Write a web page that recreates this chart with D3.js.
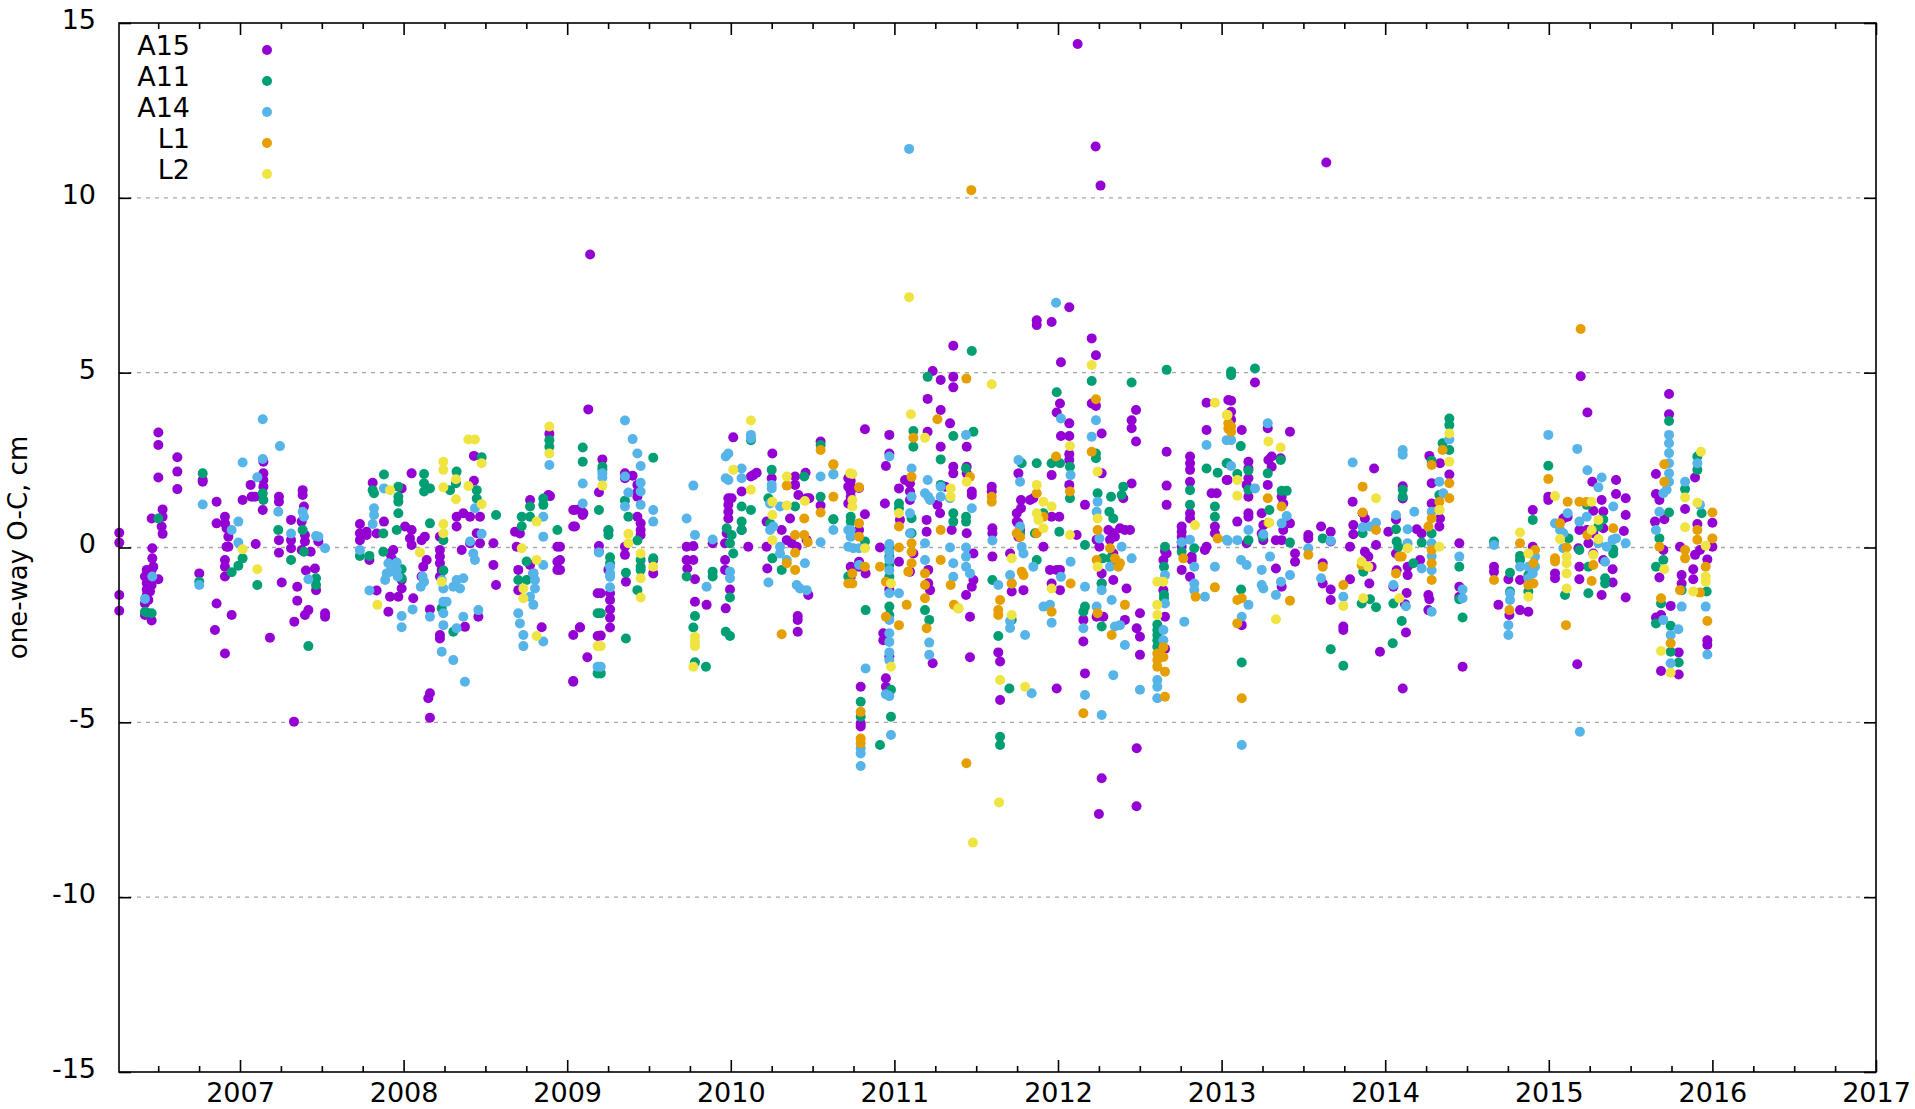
<!DOCTYPE html>
<html><head><meta charset="utf-8">
<script src="https://cdn.jsdelivr.net/npm/d3@7"></script>
<style>html,body{margin:0;padding:0;background:#fff;} svg{display:block;font-family:"DejaVu Sans",sans-serif;}</style>
</head><body><svg id="chart" width="1915" height="1109"></svg>
<script>
const seriesNames = ["A15","A11","A14","L1","L2"];
const seriesColors = ["#9400d3","#009e73","#56b4e9","#e69f00","#f0e442"];
const xTickValues = [2007,2008,2009,2010,2011,2012,2013,2014,2015,2016,2017];
const yTickValues = [-15,-10,-5,0,5,10,15];
const gridValues = [-10,-5,0,5,10];
const xDomain = [2006.2604, 2017];
const yDomain = [-15, 15];
const yLabel = "one-way O-C, cm";

// series: [decimal year, O-C in cm]
const A15 = [
[2006.262,0.42],[2006.262,0.14],[2006.262,-1.36],[2006.262,-1.81],
[2006.501,3.29],[2006.501,2.93],[2006.501,2.0],[2006.617,2.58],[2006.617,2.17],[2006.617,1.67],
[2006.527,1.09],[2006.527,0.88],[2006.460,0.83],[2006.521,0.60],[2006.527,0.39],[2006.464,-0.02],[2006.464,-0.31],
[2006.430,-0.64],[2006.440,-0.79],[2006.450,-0.93],[2006.460,-0.64],[2006.419,-0.83],[2006.430,-1.02],[2006.440,-1.17],[2006.450,-1.26],[2006.470,-0.55],[2006.460,-1.07],[2006.501,-0.91],[2006.430,-1.36],[2006.450,-1.12],[2006.440,-1.0],[2006.419,-1.6],[2006.460,-2.09],[2006.419,-1.93],[2006.440,-1.5],[2006.450,-0.7],[2006.430,-1.2],
[2006.751,-0.74],[2006.772,1.93],[2006.772,1.88],[2006.857,1.31],[2006.857,0.69],[2006.908,0.88],[2006.908,0.69],[2006.918,0.55],[2006.929,0.31],[2006.929,0.02],[2006.918,0.02],[2006.908,-0.36],[2006.908,-0.55],[2006.908,-0.83],
[2006.857,-1.6],[2006.847,-2.36],[2006.908,-3.03],[2006.949,-1.93],
[2007.016,1.36],[2007.065,1.79],[2007.071,1.45],[2007.092,1.45],[2007.143,2.45],[2007.143,2.12],[2007.143,1.93],[2007.143,1.74],[2007.139,1.07],[2007.096,0.10],[2007.183,-2.58],
[2007.238,1.45],[2007.238,1.31],[2007.238,0.21],[2007.238,-0.15],[2007.255,-1.0],
[2007.312,0.79],[2007.312,0.21],[2007.312,-0.02],[2007.350,-1.12],[2007.350,-1.52],[2007.332,-2.12],
[2007.383,1.64],[2007.383,1.5],[2007.391,1.17],[2007.377,0.74],[2007.397,0.36],[2007.397,0.17],[2007.377,-0.07],[2007.432,-0.12],[2007.403,-0.66],[2007.458,-0.60],[2007.465,-1.22],[2007.418,-1.79],[2007.397,-1.93],
[2007.479,0.17],[2007.520,-1.88],[2007.520,-1.98],[2007.33,-4.98],
[2007.733,0.67],[2007.733,0.41],[2007.733,0.21],[2007.774,0.45],[2007.774,0.36],[2007.811,1.85],[2007.791,-0.36],[2007.835,0.4],[2007.835,-1.23],
[2007.880,0.74],[2007.917,-0.17],[2007.937,-0.07],[2007.927,-0.31],[2007.917,-1.41],[2007.907,-1.84],
[2007.988,1.69],[2007.968,-1.41],[2007.988,-1.17],[2007.988,-0.93],[2008.049,2.12],[2008.009,0.60],[2008.049,0.50],[2008.039,0.26],[2008.049,0.07],[2008.059,-1.45],
[2008.110,0.21],[2008.130,0.31],[2008.141,-0.36],[2008.120,-0.55],[2008.110,-0.83],[2008.161,-1.77],[2008.161,-4.17],[2008.151,-4.31],[2008.161,-4.87],
[2008.222,0.31],[2008.222,-0.07],[2008.222,-0.26],[2008.222,-0.45],[2008.233,-0.64],[2008.222,-0.83],[2008.222,-2.50],[2008.222,-2.60],[2008.324,0.88],[2008.324,0.60],
[2008.430,2.62],[2008.430,1.91],[2008.365,0.98],[2008.406,0.88],[2008.467,0.88],[2008.447,0.41],[2008.467,0.12],[2008.406,0.12],[2008.355,-0.07],
[2008.549,0.12],[2008.549,-0.50],[2008.565,-1.07],[2008.375,-2.27],[2008.457,-1.98],
[2008.681,0.45],[2008.711,0.40],[2008.691,0.02],[2008.773,1.36],[2008.885,1.50],[2008.891,3.25],[2008.895,1.47],[2008.940,0.02],[2008.940,-0.41],[2008.940,-0.64],[2008.701,-0.64],[2008.701,-1.22],[2008.844,-2.28],[2008.773,-0.5],[2008.793,-0.74],
[2009.037,1.07],[2009.037,0.60],[2009.037,-2.50],[2009.037,-3.84],[2009.078,-2.28],[2009.129,3.95],[2009.078,1.10],[2009.099,0.98],[2009.123,-3.14],[2009.186,-2.53],[2009.186,-1.31],[2009.14,8.38],
[2009.048,1.07],[2009.094,1.00],[2009.094,0.93],[2009.048,0.60],[2008.956,0.02],[2008.956,-0.36],[2008.956,-0.64],[2009.078,-2.29],[2009.037,-3.82],
[2009.215,2.52],[2009.194,1.58],[2009.194,0.04],[2009.194,-0.12],[2009.252,-0.64],[2009.205,-1.31],[2009.262,-1.31],[2009.262,-1.50],[2009.262,-1.77],[2009.262,-2.01],[2009.262,-2.29],[2009.205,-2.52],[2009.252,0.48],
[2009.353,2.12],[2009.400,2.05],[2009.353,1.98],[2009.429,1.79],[2009.429,1.58],[2009.429,1.45],[2009.429,0.88],[2009.449,0.69],[2009.449,0.50],[2009.449,0.36],[2009.353,0.02],[2009.353,-0.21],[2009.359,-0.98],
[2009.526,-0.36],[2009.526,-0.74],[2009.730,0.02],[2009.730,-0.36],[2009.734,-0.60],[2009.771,0.04],[2009.771,-0.36],[2009.781,-0.91],[2009.781,-1.55],[2009.852,-1.64],[2009.889,0.12],
[2010.015,3.15],[2009.985,1.41],[2010.005,1.41],[2009.985,1.22],[2009.985,1.02],[2009.985,0.83],[2009.975,0.41],[2009.965,0.12],[2009.965,-0.36],[2009.965,-0.64],[2009.995,-1.20],[2009.969,-1.74],
[2010.066,1.60],[2010.066,0.50],[2010.123,2.03],[2010.138,2.07],[2010.158,2.14],[2010.107,0.02],
[2010.254,2.69],[2010.250,1.98],[2010.219,0.74],[2010.219,0.02],[2010.223,-0.60],[2010.311,0.50],[2010.342,0.21],[2010.372,0.12],[2010.403,0.02],[2010.393,2.03],[2010.393,1.79],[2010.362,0.83],[2010.413,1.50],[2010.464,1.41],[2010.480,1.41],[2010.464,0.21],[2010.474,-1.36],[2010.409,-1.96],[2010.409,-2.07],[2010.409,-2.41],[2010.457,2.14],
[2010.549,3.03],[2010.549,1.20],[2010.718,1.98],[2010.718,1.74],[2010.718,1.26],
[2010.733,1.90],[2010.733,1.75],[2010.733,1.60],[2010.733,1.45],[2010.733,-0.55],[2010.733,-0.84],[2010.784,1.70],[2010.784,0.50],[2010.784,-0.41],[2010.784,-0.55],[2010.824,-0.74],[2010.820,0.95],[2010.820,3.38],
[2010.794,-3.98],[2010.794,-5.03],[2010.794,-5.12],
[2010.912,0.0],[2010.942,1.26],[2010.948,2.33],[2010.969,3.22],[2010.969,2.69],[2010.932,-2.45],[2010.932,-2.65],[2010.969,-3.12],[2010.948,-3.74],[2010.948,-3.98],[2010.969,-1.2],
[2011.028,1.69],[2011.028,-0.41],[2011.034,0.79],[2011.065,1.93],[2011.095,1.83],[2011.095,1.6],[2011.095,1.36],[2011.116,-0.17],[2011.095,-0.69],
[2011.203,4.25],[2011.234,5.05],[2011.203,3.31],[2011.197,0.79],[2011.197,0.45],[2011.207,-0.64],[2011.207,-1.02],[2011.218,-1.22],[2011.234,-3.31],
[2011.283,4.79],[2011.283,3.93],[2011.283,2.88],[2011.310,1.74],[2011.263,1.22],[2011.279,0.98],[2011.340,3.55],[2011.360,4.88],[2011.360,4.58],[2011.360,5.77],[2011.360,2.31],[2011.360,2.12],[2011.350,0.50],
[2011.442,2.88],[2011.442,2.31],[2011.442,2.12],[2011.473,1.60],[2011.473,1.50],[2011.442,0.41],[2011.483,-0.17],[2011.483,-0.93],[2011.473,-1.12],[2011.438,-1.36],[2011.462,-1.98],[2011.462,-3.14],
[2011.595,1.74],[2011.595,1.60],[2011.599,0.55],[2011.599,0.41],[2011.599,-0.26],[2011.635,-3.0],[2011.646,-3.26],[2011.646,-4.36],
[2011.717,-1.26],[2011.707,-0.17],[2011.758,2.12],[2011.774,1.36],[2011.774,1.12],[2011.748,0.98],[2011.748,0.74],[2011.758,0.69],[2011.768,0.50],[2011.758,0.31],[2011.789,-1.22],[2011.829,1.36],[2011.849,1.41],
[2011.961,0.88],[2011.911,0.02],[2011.951,-0.64],[2011.992,-0.64],[2012.012,-0.64],[2011.961,-1.03],[2012.012,-1.22],[2011.992,-4.03],
[2011.992,3.86],[2012.012,4.12],[2012.018,5.30],[2011.961,6.45],[2011.870,6.50],[2011.870,6.36],[2012.069,6.87],[2012.069,3.55],[2012.018,3.19],[2012.069,3.19],[2012.069,2.67],[2012.069,2.50],[2012.069,1.79],[2011.961,2.07],[2012.008,0.88],[2012.114,0.36],
[2012.165,1.22],[2012.155,-2.07],[2012.155,-2.69],[2012.165,-3.60],[2012.206,5.98],[2012.232,5.50],[2012.206,4.12],[2012.232,4.05],[2012.267,3.26],[2012.267,2.12],[2012.236,0.22],[2012.253,0.02],[2012.267,-0.74],[2012.267,-1.03],[2012.236,-1.98],[2012.277,-1.98],[2012.267,-6.60],[2012.25,-7.62],
[2012.12,14.4],[2012.23,11.47],[2012.26,10.35],
[2012.308,0.50],[2012.318,0.22],[2012.338,0.41],[2012.348,0.31],[2012.399,1.41],[2012.379,0.55],[2012.409,0.50],[2012.440,0.50],[2012.338,-0.17],[2012.338,-0.45],[2012.338,-0.93],[2012.419,-1.17],[2012.409,-2.07],
[2012.450,1.83],[2012.450,3.64],[2012.450,3.41],[2012.477,3.93],[2012.477,3.03],[2012.501,-1.88],[2012.481,-2.31],[2012.501,-2.55],[2012.501,-3.07],[2012.481,-5.74],[2012.48,-7.40],
[2012.654,-0.10],[2012.664,-0.17],[2012.644,-0.36],[2012.644,-1.22],[2012.654,-1.98],[2012.654,-2.9],[2012.664,2.74],[2012.664,1.77],[2012.664,1.22],
[2012.756,0.60],[2012.756,0.45],[2012.756,0.30],[2012.756,0.15],[2012.756,0.02],[2012.756,-0.64],[2012.807,2.60],[2012.807,2.41],[2012.807,2.22],[2012.807,1.88],[2012.807,0.98],[2012.807,0.83],[2012.817,-0.26],[2012.817,-0.36],[2012.807,-0.84],
[2012.908,4.14],[2012.908,3.36],[2012.970,1.55],[2012.939,1.55],[2012.959,0.60],[2012.959,0.41],[2012.908,0.02],[2012.898,-0.07],[2013.031,1.93],[2013.041,4.22],
[2013.058,4.20],[2013.058,3.88],[2013.058,3.65],[2013.037,1.93],[2013.096,0.74],[2013.123,-2.22],[2013.204,4.72],[2013.123,3.36],[2013.164,2.45],[2013.164,2.26],[2013.164,1.98],[2013.153,1.79],[2013.164,1.45],[2013.164,0.98],[2013.164,0.88],[2013.153,0.12],
[2013.282,3.41],[2013.282,1.79],[2013.306,2.60],[2013.286,2.50],[2013.306,2.31],[2013.418,3.31],[2013.361,2.55],[2013.245,0.98],[2013.255,0.64],[2013.245,0.40],[2013.255,0.21],[2013.367,1.45],[2013.377,1.26],[2013.418,0.69],[2013.449,-0.17],[2013.449,-0.41],[2013.377,0.50],[2013.367,0.21],[2013.332,0.21],[2013.332,-0.60],[2013.367,-1.12],
[2013.530,0.36],[2013.530,0.26],[2013.608,0.60],[2013.618,-0.45],[2013.618,-1.03],[2013.667,0.45],[2013.667,0.17],[2013.667,-1.20],[2013.667,-1.50],[2013.64,11.01],
[2013.744,-2.26],[2013.744,-2.36],[2013.785,0.02],[2013.785,-0.91],[2013.801,1.31],[2013.862,0.98],[2013.876,0.83],[2013.805,0.64],[2013.805,0.38],[2013.876,-0.12],[2013.897,-0.26],[2013.917,-0.55],[2013.944,0.07],[2013.903,-1.03],[2013.932,2.26],[2013.968,-2.98],
[2014.019,0.45],[2014.066,0.80],[2014.066,-0.17],[2014.070,-0.65],[2014.050,-1.12],[2014.121,-1.62],[2014.127,-2.43],[2014.107,-4.03],[2014.107,1.75],[2014.107,1.40],[2014.137,-0.55],[2014.137,-0.79],[2014.131,-1.30],[2014.193,0.52],[2014.223,0.40],[2014.213,-0.36],
[2014.270,2.62],[2014.284,1.84],[2014.284,1.26],[2014.264,-1.36],[2014.270,-1.48],[2014.264,-1.79],[2014.335,2.41],[2014.335,0.83],[2014.331,0.60],[2014.392,2.09],
[2014.453,0.12],[2014.453,-1.12],[2014.453,-1.41],[2014.473,-3.41],
[2014.665,-0.55],[2014.665,-0.69],[2014.692,-1.64],[2014.753,-0.91],[2014.759,-1.93],[2014.824,-0.93],[2014.824,-1.79],[2014.875,-1.84],[2014.902,1.07],[2014.902,0.02],
[2014.997,1.45],[2014.997,1.36],[2015.038,-0.74],[2015.038,-0.88],[2015.089,0.83],[2015.115,0.88],
[2015.195,4.90],[2015.236,3.86],[2015.266,1.88],[2015.411,1.93],[2015.411,1.53],[2015.470,1.41],[2015.470,0.93],[2015.272,1.05],[2015.323,1.36],[2015.333,1.03],[2015.187,0.50],[2015.232,0.50],[2015.272,0.41],[2015.333,0.55],[2015.181,-0.02],[2015.242,0.12],[2015.272,-0.17],[2015.333,-0.36],[2015.187,-0.55],[2015.187,-0.91],[2015.323,-1.36],[2015.390,-0.62],[2015.390,-1.00],[2015.459,0.47],[2015.470,-1.43],[2015.174,-3.34],
[2015.655,2.10],[2015.655,1.53],[2015.676,1.36],[2015.649,0.74],[2015.700,-0.07],[2015.676,-0.86],[2015.686,-1.93],[2015.655,-2.0],[2015.686,-3.53],[2015.735,4.39],[2015.735,3.81],[2015.706,0.81],[2015.745,-1.67],[2015.794,-3.00],[2015.794,-3.63],[2015.833,1.10],[2015.802,0.02],[2015.812,-0.79],[2015.812,-1.03],[2015.883,-0.62],[2015.883,-0.91],[2015.894,-0.21],[2015.894,2.00],[2015.908,0.67],[2015.924,-0.07],[2015.969,-0.34],[2015.969,-2.65],[2015.969,-2.79],[2016.000,0.71],[2016.000,0.02]
];

const A11 = [
[2006.501,0.83],[2006.419,-1.84],[2006.460,-1.88],[2006.430,-1.86],[2006.772,2.12],[2006.751,-0.98],
[2006.949,-0.71],[2006.990,-0.52],[2007.016,-0.31],[2007.139,1.55],[2007.143,1.36],[2007.106,-1.07],
[2007.234,0.5],[2007.312,-0.36],[2007.383,0.5],[2007.391,-0.12],[2007.465,-0.88],[2007.465,-1.07],[2007.418,-2.82],
[2007.733,-0.24],[2007.791,-0.24],[2007.811,1.64],[2007.819,1.55],[2007.880,2.09],[2007.876,0.40],[2007.876,-0.12],
[2007.968,1.74],[2007.968,1.45],[2007.968,0.98],[2007.968,1.31],[2007.958,0.50],[2007.988,-0.62],[2007.988,-0.88],
[2008.125,2.10],[2008.125,1.84],[2008.125,1.60],[2008.161,1.69],[2008.161,0.69],
[2008.243,0.21],[2008.243,-0.66],[2008.233,-1.74],[2008.284,1.64],[2008.324,2.17],[2008.320,1.84],
[2008.477,2.58],[2008.447,1.64],[2008.447,1.40],[2008.565,0.93],[2008.304,-2.41],
[2008.722,0.88],[2008.722,0.61],[2008.773,0.88],[2008.773,1.17],[2008.854,1.40],[2008.854,1.22],[2008.891,3.07],[2008.891,2.88],[2008.940,0.50],[2008.701,-0.93],[2008.752,-0.93],[2009.095,2.86],[2009.095,2.45],[2009.186,-3.60],[2009.186,-1.88],[2008.752,-0.4],
[2009.215,2.31],[2009.215,2.22],[2009.194,1.07],[2009.262,-0.28],[2009.262,-0.45],[2009.205,-1.88],[2009.205,-3.60],[2009.252,0.50],[2009.252,0.36],
[2009.353,1.34],[2009.374,0.88],[2009.429,0.20],[2009.449,-0.36],[2009.449,-0.55],[2009.449,-0.64],[2009.429,-1.22],[2009.359,-0.72],[2009.359,-2.60],[2009.526,2.57],[2009.526,-0.31],
[2009.730,-0.83],[2009.781,-1.96],[2009.771,-2.29],[2009.781,-3.28],[2009.848,-3.41],[2009.889,-0.69],[2009.889,-0.83],
[2009.975,0.55],[2010.005,0.36],[2009.995,0.12],[2010.015,-0.17],[2009.995,-1.43],[2009.969,-2.41],[2009.995,-2.53],
[2010.123,3.07],[2010.066,1.17],[2010.066,0.74],[2010.066,0.50],[2010.123,1.07],
[2010.250,2.22],[2010.230,1.41],[2010.240,0.69],[2010.254,-0.31],[2010.311,-0.64],[2010.393,1.17],[2010.449,2.03],
[2010.549,2.93],[2010.549,1.45],[2010.627,0.81],[2010.718,-0.83],
[2010.627,0.80],[2010.733,0.88],[2010.733,0.74],[2010.820,0.17],[2010.794,-4.41],[2010.794,-4.84],[2010.824,-1.79],
[2010.969,-0.02],[2010.969,-0.26],[2010.969,-0.50],[2010.969,-0.84],[2010.969,-1.69],[2010.969,-1.93],[2010.979,-4.07],[2010.979,-4.84],[2010.912,-5.65],
[2011.028,1.26],[2011.028,1.12],[2011.116,3.33],[2011.116,2.88],[2011.105,0.84],[2011.105,0.41],
[2011.203,4.88],[2011.187,-1.79],[2011.213,-2.07],[2011.283,2.52],[2011.283,1.79],[2011.360,3.19],[2011.360,0.98],[2011.360,0.74],[2011.473,5.62],[2011.483,3.31],[2011.438,2.26],[2011.438,0.88],[2011.438,0.74],
[2011.599,-0.93],[2011.635,-2.53],[2011.646,-5.41],[2011.646,-5.65],[2011.703,-4.03],[2011.717,-2.07],[2011.778,2.41],[2011.768,0.41],[2011.859,0.41],[2011.870,-0.36],[2011.911,0.98],
[2011.992,4.44],[2011.961,2.41],[2012.012,2.41],[2011.870,2.41],[2012.073,2.31],[2012.073,1.41],[2012.008,0.45],
[2012.165,0.07],[2012.165,-1.69],[2012.155,-1.84],[2012.206,4.76],[2012.232,2.69],[2012.232,2.55],[2012.242,1.55],[2012.273,-0.31],[2012.318,-0.31],[2012.267,-1.03],[2012.267,-2.26],
[2012.314,1.02],[2012.338,0.83],[2012.324,1.45],[2012.389,1.50],[2012.399,1.74],[2012.450,4.72],
[2012.607,-2.20],[2012.607,-2.36],[2012.607,-2.50],[2012.607,-2.65],[2012.607,-2.84],[2012.654,0.02],[2012.648,-0.55],[2012.648,-1.35],[2012.648,-1.45],[2012.664,5.08],
[2012.807,1.64],[2012.807,1.22],[2012.833,-0.02],[2012.756,-0.12],
[2012.908,2.26],[2012.976,2.14],[2012.959,1.17],[2012.959,0.88],[2013.031,2.41],
[2013.058,5.03],[2013.058,4.93],[2013.037,2.41],[2013.096,2.10],[2013.119,-1.20],[2013.123,-3.29],[2013.204,5.12],[2013.117,2.90],[2013.164,2.20],[2013.164,1.65],[2013.164,0.21],
[2013.282,2.12],[2013.292,1.07],[2013.361,2.50],[2013.367,1.62],[2013.398,1.62],[2013.418,0.14],[2013.251,0.31],
[2013.618,0.26],[2013.667,-2.91],[2013.744,-3.38],
[2013.866,-0.69],[2013.856,-1.60],[2013.907,-1.48],[2013.944,-1.71],[2013.862,0.41],
[2014.066,0.52],[2014.070,0.17],[2014.080,0.02],[2014.050,-1.60],[2014.101,-2.10],[2014.046,-2.74],[2014.107,1.65],[2014.107,1.45],[2014.172,-0.45],[2014.223,0.14],
[2014.284,2.48],[2014.284,0.40],[2014.351,2.98],[2014.392,3.69],[2014.392,3.50],[2014.392,2.79],[2014.331,1.50],
[2014.453,-0.55],[2014.453,-1.48],[2014.473,-2.00],
[2014.665,0.17],[2014.763,-0.72],[2014.763,-1.26],[2014.824,-0.24],[2014.824,-0.36],[2014.875,-0.79],[2014.875,-1.26],[2014.902,0.79],
[2014.997,2.34],[2015.099,-1.36],[2015.120,0.26],
[2015.232,1.22],[2015.187,-0.07],[2015.242,-0.55],[2015.344,-0.88],[2015.344,-1.03],[2015.242,-1.31],[2015.394,-0.05],[2015.394,-0.17],[2015.303,0.60],[2015.333,0.80],
[2015.676,0.26],[2015.700,-0.36],[2015.655,-0.55],[2015.686,-1.60],[2015.655,-2.17],[2015.735,3.62],[2015.735,1.00],[2015.745,-2.24],[2015.745,-2.98],[2015.794,-3.29],[2015.833,1.67],[2015.812,-1.22],[2015.908,2.60],[2015.908,2.22],[2015.934,0.98],[2015.965,-1.26]
];

const A14 = [
[2006.464,-0.83],[2006.419,-1.47],[2006.772,1.23],[2006.751,-1.07],
[2006.949,0.50],[2006.990,0.74],[2006.990,0.14],[2007.016,2.43],[2007.106,2.01],[2007.139,3.67],[2007.139,2.53],
[2007.244,2.90],[2007.234,1.02],[2007.312,0.40],[2007.383,1.02],[2007.391,0.88],[2007.418,-0.91],[2007.465,0.33],[2007.479,0.31],[2007.520,-0.02],
[2007.733,-0.07],[2007.791,-1.23],[2007.819,1.12],[2007.819,0.93],[2007.811,0.67],[2007.880,1.69],
[2007.907,-0.45],[2007.917,-0.69],[2007.897,-0.74],[2007.887,-0.93],[2007.927,-0.50],[2007.958,-0.43],[2007.958,-0.64],[2007.964,-0.83],[2007.988,-1.96],[2007.988,-2.28],
[2008.055,-1.77],[2008.116,-0.83],[2008.125,-0.98],[2008.105,-1.12],[2008.161,-1.98],
[2008.233,-0.93],[2008.243,-1.17],[2008.243,-1.55],[2008.263,-1.55],[2008.243,-1.88],[2008.243,-2.22],[2008.233,-2.98],[2008.304,-3.22],[2008.324,-2.31],
[2008.436,1.12],[2008.477,0.39],[2008.406,0.17],[2008.426,-0.17],[2008.436,-0.36],
[2008.365,-0.88],[2008.324,-0.93],[2008.304,-1.12],[2008.345,-1.17],[2008.365,-1.98],[2008.375,-3.84],[2008.457,-1.79],
[2008.891,2.36],[2008.793,-0.74],[2008.803,-0.93],[2008.803,-1.17],[2008.773,-1.41],[2008.793,-1.64],[2008.701,-1.88],[2008.711,-2.17],[2008.732,-2.50],[2008.732,-2.82],[2008.854,-2.69],[2008.854,0.88],[2008.854,0.31],[2008.854,-0.5],[2009.095,1.83],[2009.095,1.26],[2009.186,-3.41],
[2009.215,2.12],[2009.215,2.00],[2009.194,-0.14],[2009.262,-0.55],[2009.262,-0.74],[2009.262,-0.84],[2009.262,-1.14],[2009.205,-3.41],
[2009.353,3.63],[2009.400,3.10],[2009.429,2.69],[2009.449,2.33],[2009.353,2.03],[2009.353,1.17],[2009.374,1.57],[2009.449,1.85],[2009.449,1.60],[2009.449,1.22],
[2009.526,1.07],[2009.526,0.74],[2009.730,0.83],[2009.771,1.77],[2009.781,0.36],[2009.852,-1.12],[2009.889,0.23],
[2009.969,2.60],[2009.985,2.69],[2009.969,1.98],[2009.985,1.93],[2009.995,-0.69],[2009.995,-0.88],
[2010.123,3.22],[2010.123,3.12],[2010.066,2.26],[2010.066,1.98],
[2010.250,1.79],[2010.250,1.69],[2010.240,1.26],[2010.260,0.60],[2010.240,0.50],[2010.230,-1.00],[2010.301,1.17],[2010.301,0.02],[2010.301,-0.17],[2010.342,-0.36],[2010.453,-0.45],[2010.403,-1.07],[2010.423,-1.17],[2010.464,-1.22],
[2010.549,2.03],[2010.549,0.15],[2010.627,2.09],[2010.627,0.50],[2010.718,0.50],[2010.718,0.02],
[2010.627,2.10],[2010.733,0.50],[2010.733,0.31],[2010.749,-0.02],[2010.784,-0.02],[2010.784,-0.5],[2010.794,-5.74],[2010.794,-5.89],[2010.794,-6.25],[2010.824,-3.46],
[2010.969,2.60],[2010.969,0.10],[2010.969,-0.12],[2010.969,-0.35],[2010.969,-0.65],[2010.969,-1.31],[2010.969,-2.07],[2010.969,-2.45],[2010.969,-2.7],[2010.969,-3.0],[2010.969,-3.22],[2010.948,-4.20],[2010.969,-4.25],[2010.979,-5.36],
[2011.028,-1.31],[2011.105,2.26],[2011.105,1.45],[2011.095,0.98],[2011.095,0.41],[2011.09,11.4],
[2011.187,1.55],[2011.207,1.45],[2011.218,1.36],[2011.203,1.93],[2011.187,0.12],[2011.187,-0.36],[2011.213,-2.72],[2011.213,-3.07],
[2011.283,1.74],[2011.283,1.45],[2011.340,1.41],[2011.340,0.0],[2011.360,-0.45],[2011.360,-0.84],[2011.438,3.22],[2011.473,1.12],[2011.438,0.0],[2011.438,-0.26],[2011.438,-0.55],[2011.462,-0.74],
[2011.599,0.2],[2011.635,-1.07],[2011.707,-2.30],[2011.707,-2.10],[2011.717,-1.03],[2011.707,-0.79],[2011.758,2.50],[2011.768,1.88],[2011.768,0.60],[2011.778,0.02],[2011.789,-0.17],[2011.799,-2.50],[2011.839,-4.17],[2011.849,-0.55],
[2011.911,-1.69],[2011.951,-1.64],[2011.961,-2.15],[2012.018,-0.84],
[2011.988,7.0],[2012.018,3.69],[2012.077,2.07],[2012.077,-0.41],
[2012.165,-1.12],[2012.155,-2.31],[2012.165,-4.22],[2012.232,3.64],[2012.206,3.17],[2012.242,1.31],[2012.236,1.02],[2012.253,0.26],[2012.267,-1.22],[2012.236,-1.69],[2012.267,-4.79],
[2012.389,0.02],[2012.450,-0.31],[2012.318,-0.55],[2012.328,-1.50],[2012.348,-2.26],[2012.379,-2.22],[2012.409,-2.79],[2012.338,-3.65],[2012.501,-4.07],
[2012.607,-3.79],[2012.607,-3.98],[2012.607,-4.31],[2012.644,-2.36],[2012.644,-2.65],[2012.654,-0.79],[2012.654,-1.60],
[2012.756,0.15],[2012.807,0.22],[2012.833,-0.55],[2012.833,-1.03],[2012.833,-1.22],[2012.772,-2.12],
[2012.908,2.93],[2012.959,-0.55],[2012.898,-1.41],[2013.031,3.07],[2013.031,0.22],
[2013.058,3.07],[2013.058,2.33],[2013.037,0.19],[2013.096,0.21],[2013.119,-0.36],[2013.153,-0.50],[2013.164,-1.64],[2013.123,-1.98],[2013.123,-5.65],[2013.204,1.69],[2013.164,0.50],
[2013.282,3.55],[2013.296,-0.26],[2013.245,-0.64],[2013.245,-1.07],[2013.255,-1.17],[2013.363,-0.98],[2013.332,-1.36],[2013.418,-0.79],[2013.398,0.90],[2013.367,0.69],[2013.255,0.38],
[2013.530,-0.02],[2013.608,-0.88],[2013.667,0.19],
[2013.744,-1.41],[2013.801,2.43],[2013.862,0.58],[2013.944,0.71],[2013.907,0.60],
[2014.066,0.93],[2014.050,-1.07],[2014.107,2.79],[2014.107,2.65],[2014.137,0.52],[2014.137,0.12],[2014.178,1.02],[2014.223,-0.60],[2014.127,-1.68],
[2014.284,1.02],[2014.284,0.12],[2014.284,-0.25],[2014.284,-0.65],[2014.284,-1.84],[2014.331,1.88],[2014.355,1.55],[2014.392,3.09],
[2014.453,-0.26],[2014.473,-1.20],[2014.473,-1.45],
[2014.665,0.07],[2014.763,-1.31],[2014.763,-1.50],[2014.753,-2.22],[2014.753,-2.50],[2014.824,-0.55],[2014.875,-0.55],[2014.875,-0.88],[2014.916,-0.26],[2014.916,-0.55],[2014.902,-0.74],
[2014.997,3.22],[2015.038,0.69],[2015.069,0.50],[2015.089,0.41],[2015.089,-0.02],[2015.115,0.98],
[2015.174,2.82],[2015.236,2.21],[2015.323,2.00],[2015.303,1.72],[2015.394,1.17],[2015.187,0.74],[2015.232,0.88],[2015.303,0.12],[2015.354,0.02],[2015.390,0.22],[2015.344,-0.41],[2015.411,0.26],[2015.470,0.12],[2015.19,-5.27],
[2015.676,1.02],[2015.655,0.50],[2015.735,3.22],[2015.735,2.98],[2015.735,2.70],[2015.735,2.41],[2015.735,2.12],[2015.735,1.88],[2015.720,1.65],[2015.700,1.55],[2015.700,-2.07],[2015.745,-2.50],[2015.745,-3.31],[2015.792,-2.34],[2015.833,1.88],[2015.812,-1.69],[2015.908,2.41],[2015.924,1.22],[2015.959,-1.69],[2015.969,-3.06]
];

const L1 = [
[2010.342,1.77],[2010.393,0.36],[2010.393,-0.15],[2010.342,-0.45],[2010.393,-0.64],[2010.311,-2.48],[2010.449,0.83],[2010.449,0.36],[2010.470,0.15],
[2010.549,2.79],[2010.549,1.00],[2010.627,2.38],[2010.627,1.45],[2010.718,-1.03],
[2010.627,2.37],[2010.743,-0.74],[2010.743,-1.03],[2010.784,1.72],[2010.784,0.69],[2010.784,0.31],[2010.820,-0.55],[2010.794,-4.70],[2010.794,-5.46],[2010.794,-5.60],
[2010.912,-0.55],[2010.948,-0.98],[2010.948,-1.98],
[2011.028,0.0],[2011.028,0.60],[2011.028,-2.22],[2011.116,3.14],[2011.105,2.02],[2011.105,0.12],[2011.105,-0.12],[2011.105,-0.45],[2011.085,-0.69],[2011.075,-1.64],
[2011.187,-0.74],[2011.187,-1.07],[2011.187,-1.45],[2011.197,-2.31],
[2011.263,3.67],[2011.283,0.50],[2011.283,-0.36],[2011.344,-1.07],[2011.364,-1.64],[2011.391,-1.74],[2011.440,4.83],[2011.462,2.02],[2011.440,-6.17],[2011.47,10.22],
[2011.595,1.45],[2011.595,1.31],[2011.646,-1.50],[2011.635,-1.79],[2011.635,-1.93],[2011.717,-1.03],[2011.748,0.41],[2011.768,0.30],[2011.778,-0.69],[2011.789,-0.79],[2011.870,1.55],[2011.870,0.41],[2011.911,0.88],[2011.961,-1.84],
[2011.988,2.60],[2012.073,1.60],[2012.077,-1.03],
[2012.155,-4.74],[2012.206,2.74],[2012.232,4.24],[2012.242,0.50],[2012.236,-0.36],[2012.242,-1.88],
[2012.318,-0.02],[2012.348,-0.31],[2012.379,-0.45],[2012.369,-0.55],[2012.409,-1.64],[2012.328,-2.50],
[2012.607,-3.03],[2012.607,-3.22],[2012.607,-3.41],[2012.644,-2.85],[2012.644,-3.13],[2012.654,-3.55],[2012.654,-4.27],
[2012.766,-0.31],[2012.841,-1.41],[2012.976,0.26],[2012.959,-1.14],[2013.041,3.55],[2013.041,3.40],
[2013.058,3.46],[2013.058,3.31],[2013.096,-1.50],[2013.123,-1.45],[2013.096,-2.17],[2013.123,-4.31],
[2013.282,1.41],[2013.286,0.71],[2013.367,1.17],[2013.418,-1.52],
[2013.530,-0.21],[2013.618,-0.55],[2013.744,-1.07],
[2013.862,1.74],[2013.862,1.0],[2013.856,-0.50],[2013.944,0.50],
[2014.086,-0.26],[2014.101,-0.26],[2014.066,-0.74],
[2014.284,2.36],[2014.284,0.83],[2014.264,0.60],[2014.284,-0.07],[2014.284,-0.45],[2014.284,-0.93],[2014.331,1.31],[2014.331,1.07],[2014.351,2.79],[2014.392,1.84],[2014.392,1.41],
[2014.665,-0.93],[2014.759,-1.79],[2014.824,0.12],[2014.875,-1.07],[2014.906,-0.45],[2014.906,-1.03],[2014.916,-0.07],
[2014.997,1.96],[2015.038,-0.31],[2015.038,-0.40],[2015.069,0.69],[2015.109,0.0],[2015.105,-2.22],[2015.115,1.31],
[2015.187,1.31],[2015.195,6.25],[2015.236,0.36],[2015.272,-0.50],[2015.262,-0.96],[2015.394,0.55],[2015.23,1.3],
[2015.676,0.02],[2015.686,-1.45],[2015.706,2.38],[2015.706,1.88],[2015.745,-2.74],[2015.802,-1.22],[2015.833,-0.07],[2015.833,-0.31],[2015.908,0.50],[2015.908,0.22],[2015.924,-1.29],[2015.959,-0.55],[2015.969,-2.10],[2016.000,1.00],[2016.000,0.26]
];

const L2 = [
[2007.016,-0.05],[2007.106,-0.62],
[2007.917,1.64],[2008.243,2.45],[2008.243,2.22],[2008.243,1.72],[2008.243,0.67],[2008.243,0.41],[2008.233,-0.98],[2008.320,1.95],[2008.320,1.38],
[2008.396,3.09],[2008.436,3.09],[2008.477,2.41],[2008.396,1.76],[2008.477,1.24],[2007.84,-1.64],[2008.10,-0.14],
[2008.891,3.46],[2008.891,2.69],[2008.722,-0.02],[2008.813,0.74],[2008.813,-0.36],[2008.732,-1.17],[2008.732,-1.45],[2008.813,-2.53],[2009.186,-2.82],
[2009.215,1.77],[2009.374,0.39],[2009.374,0.12],[2009.449,-0.17],[2009.449,-0.88],[2009.449,-1.43],[2009.526,-0.55],
[2009.781,-2.55],[2009.781,-2.69],[2009.781,-2.82],[2009.771,-3.41],[2009.205,-2.82],
[2010.015,2.22],[2010.123,3.63],[2010.123,1.65],
[2010.254,1.31],[2010.254,0.93],[2010.254,0.21],[2010.342,2.03],[2010.342,1.20],[2010.453,1.33],[2010.729,2.12],
[2010.743,2.10],[2010.743,1.36],[2010.743,1.17],[2010.820,-0.02],[2010.979,-1.03],[2010.979,-3.41],
[2011.028,0.98],[2011.101,3.81],[2011.09,7.16],
[2011.187,3.14],[2011.344,1.69],[2011.344,1.45],[2011.391,-1.74],[2011.442,1.88],
[2011.595,4.67],[2011.646,-3.79],[2011.717,-1.93],[2011.717,-0.31],[2011.799,-3.98],[2011.64,-7.29],[2011.48,-8.44],
[2011.870,1.79],[2011.870,0.98],[2011.880,0.79],[2011.911,1.31],[2011.961,1.17],[2011.911,0.55],[2011.961,-1.17],
[2012.073,2.90],[2012.073,0.36],[2012.206,5.22],[2012.242,2.17],[2012.242,0.83],[2012.242,-0.55],
[2012.607,-0.98],[2012.644,-0.98],[2012.607,-1.64],[2012.607,-1.93],[2012.837,0.64],[2012.959,4.14],[2013.031,3.79],
[2013.037,3.79],[2013.096,1.93],[2013.096,1.48],[2013.286,3.03],[2013.361,2.86],[2013.292,0.71],[2013.332,-2.05],
[2013.744,-1.67],[2013.866,-1.45],[2013.897,-0.55],[2013.856,-0.40],[2013.944,1.41],
[2014.086,-1.45],[2014.137,-0.02],[2014.331,1.07],[2014.331,0.02],[2014.392,3.26],[2014.392,2.45],
[2014.824,0.43],[2014.875,-0.17],[2014.875,-1.41],
[2015.038,1.47],[2015.069,0.24],[2015.109,-0.26],[2015.109,-0.45],[2015.109,-0.74],[2015.109,-1.17],
[2015.262,1.31],[2015.262,0.50],[2015.272,-0.21],[2015.303,0.79],[2015.303,0.24],
[2015.706,-0.62],[2015.686,-2.96],[2015.745,-3.58],[2015.833,1.43],[2015.833,0.58],[2015.883,-1.26],[2015.930,2.74],[2015.908,1.28],[2015.959,0.05],[2015.959,-0.83],[2015.959,-0.98]
];

const seriesData = [A15, A11, A14, L1, L2];

const FONT = 27;
const L = 119, R = 1876, T = 23, B = 1072;
const svg = d3.select("#chart");
const x = d3.scaleLinear().domain(xDomain).range([L, R]);
const y = d3.scaleLinear().domain(yDomain).range([B, T]);
const plainFmt = d => String(d);

// grid
svg.append("g").selectAll("line").data(gridValues).join("line")
  .attr("x1", L).attr("x2", R).attr("y1", d => y(d)).attr("y2", d => y(d))
  .attr("stroke", "#a8a8a8").attr("stroke-width", 1.3).attr("stroke-dasharray", "4,5");

// points
const plot = svg.append("g");
seriesData.forEach((data, i) => {
  plot.append("g").selectAll("circle").data(data).join("circle")
    .attr("cx", d => x(d[0])).attr("cy", d => y(d[1])).attr("r", 5)
    .attr("fill", seriesColors[i]);
});

// axes
const minorX = d3.range(2006.5, 2017, 0.25).filter(v => Math.abs(v - Math.round(v)) > 1e-6);
function styleAxis(g){
  g.select(".domain").remove();
  g.selectAll(".tick line").attr("stroke", "#000").attr("stroke-width", 1.6);
  g.selectAll("text").attr("font-size", FONT).attr("font-family", '"DejaVu Sans",sans-serif').attr("fill", "#000");
}
svg.append("g").attr("transform", `translate(0,${B})`)
  .call(d3.axisBottom(x).tickValues(xTickValues).tickFormat(plainFmt).tickSize(-12).tickPadding(11))
  .call(styleAxis);
svg.append("g").attr("transform", `translate(0,${B})`)
  .call(d3.axisBottom(x).tickValues(minorX).tickFormat("").tickSize(-6))
  .call(styleAxis);
svg.append("g").attr("transform", `translate(0,${T})`)
  .call(d3.axisTop(x).tickValues(xTickValues).tickFormat("").tickSize(-12))
  .call(styleAxis);
svg.append("g").attr("transform", `translate(0,${T})`)
  .call(d3.axisTop(x).tickValues(minorX).tickFormat("").tickSize(-6))
  .call(styleAxis);
const yAx = svg.append("g").attr("transform", `translate(${L},0)`)
  .call(d3.axisLeft(y).tickValues(yTickValues).tickFormat(plainFmt).tickSize(-12).tickPadding(23))
  .call(styleAxis);
yAx.selectAll("text").attr("dy", "0.2em");
svg.append("g").attr("transform", `translate(${R},0)`)
  .call(d3.axisRight(y).tickValues(yTickValues).tickFormat("").tickSize(-12))
  .call(styleAxis);

// border
svg.append("rect").attr("x", L).attr("y", T).attr("width", R - L).attr("height", B - T)
  .attr("fill", "none").attr("stroke", "#000").attr("stroke-width", 1.6);

// y label
svg.append("text").attr("transform", `translate(18,${(T + B) / 2}) rotate(-90)`)
  .attr("text-anchor", "middle").attr("dominant-baseline", "central")
  .attr("font-size", 26).attr("fill", "#000").text(yLabel);

// legend
const leg = svg.append("g");
seriesNames.forEach((name, i) => {
  const ry = 50 + i * 31;
  leg.append("text").attr("x", 190).attr("y", ry).attr("dy", "0.2em")
    .attr("text-anchor", "end").attr("font-size", FONT).attr("fill", "#000").text(name);
  leg.append("circle").attr("cx", 267).attr("cy", ry).attr("r", 5).attr("fill", seriesColors[i]);
});
</script></body></html>
